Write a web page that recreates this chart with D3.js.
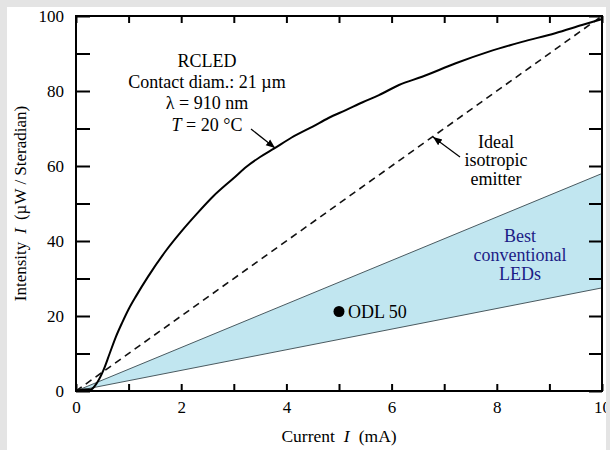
<!DOCTYPE html>
<html>
<head>
<meta charset="utf-8">
<script src="https://cdn.jsdelivr.net/npm/d3@7"></script>
<style>
  html, body { margin: 0; padding: 0; background: #e4e4e4; }
  svg { display: block; }
  text { font-family: "Liberation Serif", "Times New Roman", serif; }
</style>
</head>
<body>
<svg id="chart" width="610" height="450"></svg>
<script>
// RCLED light-current characteristic (current in mA, intensity in µW/sr)
const rcledCurrent = [0, 0.15, 0.28, 0.4, 0.52, 0.64, 0.76, 0.88, 1.0, 1.15, 1.37, 1.72, 2.0, 2.3, 2.6, 3.0, 3.24, 3.5, 3.77, 4.1, 4.5, 4.8, 5.13, 5.45, 5.76, 6.14, 6.58, 7.22, 7.85, 8.48, 9.11, 9.62, 10.0];
const rcledIntensity = [0, 0.4, 0.4, 2.2, 5.5, 10, 14.5, 18.3, 21.8, 25.5, 30.5, 37.6, 42.5, 47.3, 51.8, 56.8, 59.8, 62.4, 64.7, 67.6, 70.5, 72.8, 74.9, 77, 78.9, 81.6, 83.8, 87.4, 90.5, 93.1, 95.4, 97.6, 99.2];

// Ideal isotropic emitter (straight line)
const idealCurrent = [0, 10];
const idealIntensity = [0, 100];

// Range of the best conventional LEDs
const bandCurrent = [0, 10];
const bandUpper = [0, 58];
const bandLower = [0, 27.5];

// ODL 50 data point
const odlCurrent = [5];
const odlIntensity = [21.2];
const odlLabel = ["ODL 50"];

const xTicks = [0, 1, 2, 3, 4, 5, 6, 7, 8, 9, 10];
const xTickLabels = ["0", "", "2", "", "4", "", "6", "", "8", "", "10"];
const yTicks = [0, 10, 20, 30, 40, 50, 60, 70, 80, 90, 100];
const yTickLabels = ["0", "", "20", "", "40", "", "60", "", "80", "", "100"];

const svg = d3.select("#chart");
const x = d3.scaleLinear().domain([0, 10]).range([76, 602]);
const y = d3.scaleLinear().domain([0, 100]).range([391, 16]);

// white panel
svg.append("rect").attr("x", 7).attr("y", 7).attr("width", 599).attr("height", 443).attr("fill", "#fff");

// conventional LED band
const bandPts = bandCurrent.map((c, i) => [c, bandUpper[i]])
  .concat(bandCurrent.slice().reverse().map((c, i) => [c, bandLower[bandLower.length - 1 - i]]));
svg.append("path")
  .attr("d", d3.line().x(d => x(d[0])).y(d => y(d[1]))(bandPts) + "Z")
  .attr("fill", "#c1e6f0").attr("stroke", "none");
[bandUpper, bandLower].forEach(vals => {
  svg.append("path")
    .attr("d", d3.line().x((d, i) => x(bandCurrent[i])).y(d => y(d))(vals))
    .attr("fill", "none").attr("stroke", "#4a5a60").attr("stroke-width", 1);
});

// ideal isotropic emitter
svg.append("path")
  .attr("d", d3.line().x((d, i) => x(idealCurrent[i])).y(d => y(d))(idealIntensity))
  .attr("fill", "none").attr("stroke", "#111").attr("stroke-width", 1.6)
  .attr("stroke-dasharray", "7,5");

// RCLED curve
svg.append("path")
  .attr("d", d3.line().curve(d3.curveMonotoneX)
    .x((d, i) => x(rcledCurrent[i])).y(d => y(d))(rcledIntensity))
  .attr("fill", "none").attr("stroke", "#000").attr("stroke-width", 2)
  .attr("stroke-linejoin", "round");

// ODL 50 point
svg.selectAll("circle.odl").data(odlCurrent).enter().append("circle")
  .attr("class", "odl")
  .attr("cx", d => x(d)).attr("cy", (d, i) => y(odlIntensity[i]))
  .attr("r", 5.5).attr("fill", "#000");
svg.selectAll("text.odl").data(odlLabel).enter().append("text")
  .attr("class", "odl")
  .attr("x", (d, i) => x(odlCurrent[i]) + 9).attr("y", (d, i) => y(odlIntensity[i]) + 6)
  .attr("font-size", 18).text(d => d);

// axes with inward ticks
const axisStyle = g => {
  g.select(".domain").remove();
  g.selectAll(".tick line").attr("stroke", "#000").attr("stroke-width", 2);
  g.selectAll(".tick text").attr("font-size", 17).attr("fill", "#000")
    .attr("font-family", "'Liberation Serif', 'Times New Roman', serif");
};
svg.append("g").attr("transform", `translate(0,${y(0)})`)
  .call(d3.axisBottom(x).tickValues(xTicks).tickSize(-7).tickPadding(10)
    .tickFormat((d, i) => xTickLabels[i]))
  .call(axisStyle);
svg.append("g").attr("transform", `translate(0,${y(100)})`)
  .call(d3.axisTop(x).tickValues(xTicks).tickSize(-7).tickFormat(""))
  .call(axisStyle);
svg.append("g").attr("transform", `translate(${x(0)},0)`)
  .call(d3.axisLeft(y).tickValues(yTicks).tickSize(-14).tickPadding(12)
    .tickFormat((d, i) => yTickLabels[i]))
  .call(axisStyle);
svg.append("g").attr("transform", `translate(${x(10)},0)`)
  .call(d3.axisRight(y).tickValues(yTicks).tickSize(-13).tickFormat(""))
  .call(axisStyle);

// frame
svg.append("rect")
  .attr("x", x(0)).attr("y", y(100))
  .attr("width", x(10) - x(0)).attr("height", y(0) - y(100))
  .attr("fill", "none").attr("stroke", "#000").attr("stroke-width", 2);

// axis titles
const xt = svg.append("text").attr("x", (x(0) + x(10)) / 2).attr("y", 442)
  .attr("text-anchor", "middle").attr("font-size", 17.5);
xt.append("tspan").text("Current");
xt.append("tspan").attr("dx", 9).attr("font-style", "italic").text("I");
xt.append("tspan").attr("dx", 9).text("(mA)");

const yt = svg.append("text")
  .attr("transform", `translate(26,${(y(0) + y(100)) / 2}) rotate(-90)`)
  .attr("text-anchor", "middle").attr("font-size", 17);
yt.append("tspan").text("Intensity");
yt.append("tspan").attr("dx", 8).attr("font-style", "italic").text("I");
yt.append("tspan").attr("dx", 8).text("(µW / Steradian)");

// arrow marker
svg.append("defs").append("marker")
  .attr("id", "head").attr("viewBox", "0 0 10 10")
  .attr("refX", 10).attr("refY", 5)
  .attr("markerWidth", 9).attr("markerHeight", 9)
  .attr("markerUnits", "userSpaceOnUse")
  .attr("orient", "auto")
  .append("path").attr("d", "M0,1 L10,5 L0,9 Z").attr("fill", "#000");

// RCLED annotation
const rcledNote = [["RCLED"], ["Contact diam.: 21 µm"], ["λ = 910 nm"], ["T", " = 20 °C"]];
rcledNote.forEach((parts, i) => {
  const t = svg.append("text").attr("x", 207).attr("y", 67 + i * 21.2)
    .attr("text-anchor", "middle").attr("font-size", 18);
  if (parts.length === 2) {
    t.append("tspan").attr("font-style", "italic").text(parts[0]);
    t.append("tspan").text(parts[1]);
  } else {
    t.text(parts[0]);
  }
});
svg.append("line").attr("x1", 251).attr("y1", 129).attr("x2", 275).attr("y2", 148)
  .attr("stroke", "#000").attr("stroke-width", 1.2).attr("marker-end", "url(#head)");

// ideal emitter annotation
["Ideal", "isotropic", "emitter"].forEach((s, i) => {
  svg.append("text").attr("x", 496).attr("y", 148 + i * 18.3)
    .attr("text-anchor", "middle").attr("font-size", 18).text(s);
});
svg.append("line").attr("x1", 460).attr("y1", 157).attr("x2", 433).attr("y2", 137)
  .attr("stroke", "#000").attr("stroke-width", 1.2).attr("marker-end", "url(#head)");

// conventional LED annotation
["Best", "conventional", "LEDs"].forEach((s, i) => {
  svg.append("text").attr("x", 520).attr("y", 242 + i * 19.2)
    .attr("text-anchor", "middle").attr("font-size", 18).attr("fill", "#1c1c86").text(s);
});

// right border strip
svg.append("rect").attr("x", 606).attr("y", 0).attr("width", 4).attr("height", 450).attr("fill", "#e4e4e4");
svg.append("rect").attr("x", 0).attr("y", 0).attr("width", 610).attr("height", 7).attr("fill", "#e4e4e4");
</script>
</body>
</html>
